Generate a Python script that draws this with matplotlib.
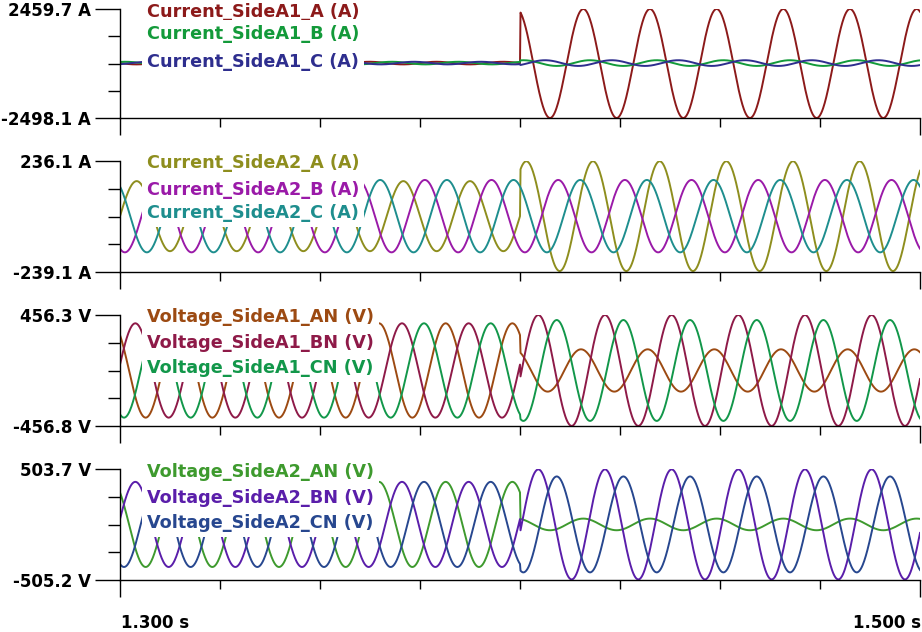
import numpy as np
import matplotlib.pyplot as plt
from matplotlib.ticker import FixedLocator

plt.rcParams['font.family'] = ['DejaVu Sans']

# time base (s) and fault instant
freq = 60.0
t_start, t_end = 1.300, 1.500
t_fault = 1.4001
x_ticks = [1.300, 1.325, 1.350, 1.375, 1.400, 1.425, 1.450, 1.475, 1.500]

# panel 1: Current_SideA1
i1_names = ['Current_SideA1_A (A)', 'Current_SideA1_B (A)', 'Current_SideA1_C (A)']
i1_range = [-2498.1, 2459.7]
i1_pre_amp = [60, 60, 60]
i1_pre_peak = [1.39575, 1.40131, 1.40686]
i1_post_amp = [2479, 130, 130]
i1_post_peak = [1.41583, 1.41750, 1.40625]
i1_post_offset = [-19, 0, 0]

# panel 2: Current_SideA2
i2_names = ['Current_SideA2_A (A)', 'Current_SideA2_B (A)', 'Current_SideA2_C (A)']
i2_range = [-239.1, 236.1]
i2_pre_amp = [150, 155, 155]
i2_pre_peak = [1.38750, 1.39288, 1.39838]
i2_post_amp = [235, 155, 155]
i2_post_peak = [1.41825, 1.39288, 1.39838]
i2_post_offset = [0, 0, 0]

# panel 3: Voltage_SideA1
v1_names = ['Voltage_SideA1_AN (V)', 'Voltage_SideA1_BN (V)', 'Voltage_SideA1_CN (V)']
v1_range = [-456.8, 456.3]
v1_pre_amp = [388, 388, 388]
v1_pre_peak = [1.36475, 1.37050, 1.37600]
v1_post_amp = [174, 456, 415]
v1_post_peak = [1.41525, 1.40458, 1.40918]
v1_post_offset = [0, 0, 0]

# panel 4: Voltage_SideA2
v2_names = ['Voltage_SideA2_AN (V)', 'Voltage_SideA2_BN (V)', 'Voltage_SideA2_CN (V)']
v2_range = [-505.2, 503.7]
v2_pre_amp = [387, 387, 387]
v2_pre_peak = [1.36475, 1.37050, 1.37600]
v2_post_amp = [53, 500, 436]
v2_post_peak = [1.41583, 1.40458, 1.40918]
v2_post_offset = [0, 0, 0]

panels = [
    (i1_names, i1_range, 'A', i1_pre_amp, i1_pre_peak, i1_post_amp, i1_post_peak, i1_post_offset),
    (i2_names, i2_range, 'A', i2_pre_amp, i2_pre_peak, i2_post_amp, i2_post_peak, i2_post_offset),
    (v1_names, v1_range, 'V', v1_pre_amp, v1_pre_peak, v1_post_amp, v1_post_peak, v1_post_offset),
    (v2_names, v2_range, 'V', v2_pre_amp, v2_pre_peak, v2_post_amp, v2_post_peak, v2_post_offset),
]
colors = [
    ['#8c1a1a', '#139a3a', '#2e2e8e'],
    ['#8e8e1e', '#9a1aa8', '#1e8e8e'],
    ['#9c4a12', '#8e1a48', '#12974a'],
    ['#3e9a2e', '#5a1eaa', '#27478f'],
]

W, H = 922, 632
panel_px = [(9, 118), (161, 272), (315, 426), (469, 580)]
label_base = [[17, 39, 67], [168, 195, 218], [322, 348, 373], [477, 503, 528]]
x0, x1 = 120, 920
fs = 12.7

t = np.arange(t_start, t_end + 1e-9, 1 / 7680.0)
pre = t < t_fault


def wave(amp, peak, offset=0.0):
    return offset + amp * np.cos(2 * np.pi * freq * (t - peak))


fig = plt.figure(figsize=(W / 100, H / 100), dpi=100)

for k, (names, yr, unit, a0, p0, a1, p1, off) in enumerate(panels):
    top, bot = panel_px[k]
    ax = fig.add_axes([x0 / W, 1 - bot / H, (x1 - x0) / W, (bot - top) / H])
    for j in range(3):
        y = np.where(pre, wave(a0[j], p0[j]), wave(a1[j], p1[j], off[j]))
        ax.plot(t, y, color=colors[k][j], lw=1.4, zorder=2)

    ax.set_xlim(t_start, t_end)
    ax.set_ylim(yr[0], yr[1])
    for s in ['top', 'right']:
        ax.spines[s].set_visible(False)
    for s in ['left', 'bottom']:
        ax.spines[s].set_linewidth(1.0)

    ax.xaxis.set_major_locator(FixedLocator([x_ticks[0], x_ticks[-1]]))
    ax.xaxis.set_minor_locator(FixedLocator(x_ticks[1:-1]))
    ax.tick_params(axis='x', which='major', length=12.5, width=1.0, labelbottom=False)
    ax.tick_params(axis='x', which='minor', length=6.5, width=1.0)

    ax.set_yticks([yr[0], yr[1]], ['%.1f %s' % (v, unit) for v in yr],
                  fontsize=12.0, fontweight='bold')
    ax.yaxis.set_minor_locator(FixedLocator(np.linspace(yr[0], yr[1], 5)[1:-1]))
    ax.tick_params(axis='y', which='major', length=18, width=1.0, pad=3)
    ax.tick_params(axis='y', which='minor', length=8.6, width=1.0)

    for j in range(3):
        fig.text(147 / W, 1 - label_base[k][j] / H, names[j], color=colors[k][j],
                 fontsize=fs, fontweight='bold', ha='left', va='baseline',
                 bbox=dict(facecolor='white', edgecolor='none', pad=3.5))

fig.text(121 / W, 1 - 628 / H, '%.3f s' % t_start, fontsize=12.0, fontweight='bold',
         ha='left', va='baseline')
fig.text(921 / W, 1 - 628 / H, '%.3f s' % t_end, fontsize=12.0, fontweight='bold',
         ha='right', va='baseline')

fig.savefig('out.png', dpi=100)
